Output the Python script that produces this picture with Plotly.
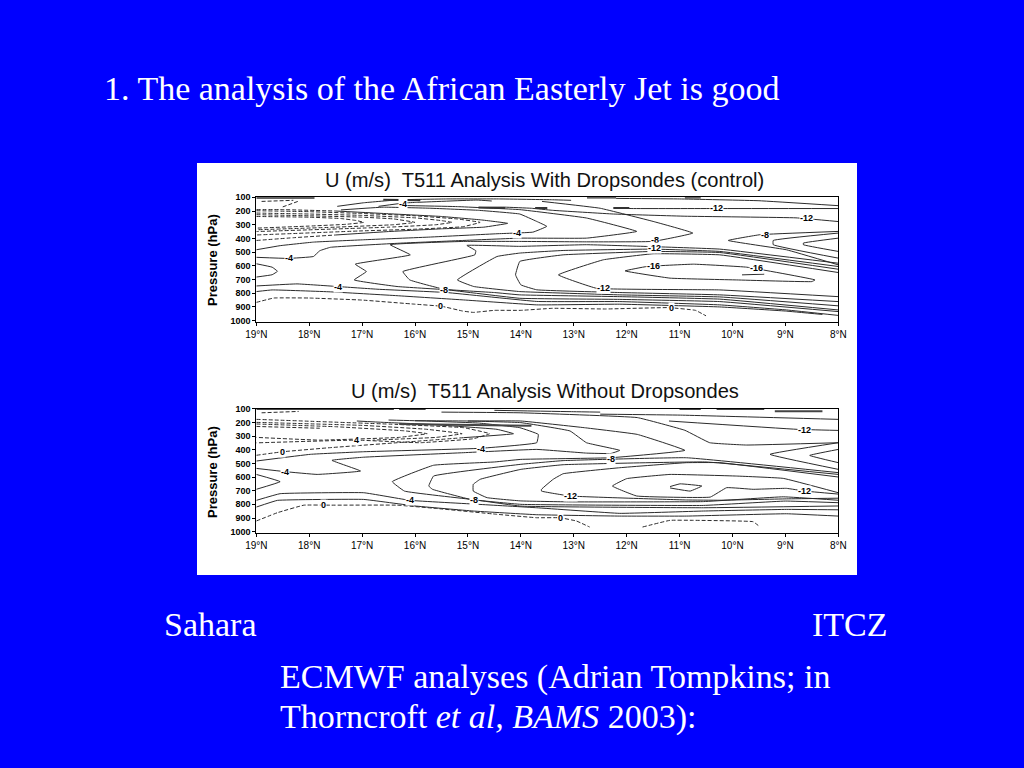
import plotly.graph_objects as go

# ---------- text ----------
slide_heading = "1. The analysis of the African Easterly Jet is good"
title_top = "U (m/s)  T511 Analysis With Dropsondes (control)"
title_bottom = "U (m/s)  T511 Analysis Without Dropsondes"
caption_1 = "ECMWF analyses (Adrian Tompkins; in"
caption_2 = "Thorncroft <i>et al, BAMS</i> 2003):"
lat_ticks = [19, 18, 17, 16, 15, 14, 13, 12, 11, 10, 9, 8]
lat_labels = ["19°N", "18°N", "17°N", "16°N", "15°N", "14°N", "13°N", "12°N", "11°N", "10°N", "9°N", "8°N"]
p_ticks = [100, 200, 300, 400, 500, 600, 700, 800, 900, 1000]

# ---------- top panel contours (lat, hPa) ----------
top_solid_1 = [(17.47,166),(16.97,140),(16.3,118),(15.4,112),(14.4,112),(13.4,118),(13.05,122)]
top_solid_2 = [(16.69,166),(16.2,141),(15.97,137),(14.83,120),(14.55,127)]
top_solid_3 = [(14.8,175),(14.3,172),(13.8,180),(13.4,195),(12.25,222),(10.9,238),(8.8,250),(8,277)]
top_solid_4 = [(12.25,178),(11.9,182),(10.3,182),(8,182)]
top_solid_5 = [(12.2,108),(11,112),(9.5,125),(8,161)]
top_m4_tip = [(19,483),(18.55,453),(17.92,427),(16.97,410),(15.71,390),(14.45,366),(13.77,354),(13.51,312),(13.7,276),(14.02,222),(14.8,195),(15.7,180),(16.6,172),(17.4,192)]
top_tip_355 = [(19,538),(18.4,546),(17.92,532),(17.8,490),(17.6,465),(16.3,435),(15.1,415),(14.02,398),(12.76,398),(11.81,349),(12.76,251),(14.02,190),(15.2,168),(16.2,160)]
top_m6 = [(13.6,130),(12.5,180),(11.5,276),(10.75,361),(11.5,422),(12.76,425),(14.02,422),(15.08,422),(16.47,446),(16.09,520),(17.13,588),(16.92,642),(17.15,703),(16.34,751),(15.4,775),(14.02,837),(12.13,845),(10.24,861),(8,934)]
top_m8 = [(8,581),(10.24,478),(11.6,459),(12.76,446),(14.02,458),(15.02,451),(14.85,490),(14.87,520),(16.23,642),(16.1,703),(15.45,771),(14.5,795),(14.02,812),(12.13,825),(10.24,843),(8,922)]
top_m10a = [(8,605),(10.24,495),(11.5,478),(13.2,488),(14.02,507),(14.45,532),(15.2,703),(14.89,751),(14.02,788),(12.13,812),(10.24,827),(8,892)]
top_m10b = [(8,625),(10.24,503),(11.5,495),(13.2,520),(14.02,568),(14.1,666),(14.0,739),(13.7,775),(12.13,795),(10.24,812),(8,861)]
top_m12 = [(8,649),(10.24,520),(11.5,512),(12.44,556),(13.29,666),(12.57,764),(10.24,776),(8,825)]
top_m16 = [(12.03,637),(11.62,605),(10.74,588),(9.73,610),(8.44,703),(8.5,715),(9.92,703),(11.18,690),(12.03,637)]
top_m16_bit = [(9.82,666),(9.4,661)]
top_m8_left = [(19,585),(18.7,610),(18.6,640),(18.7,665),(19,682)]
top_m4_low = [(19,747),(18.23,732),(17.47,751),(16.7,771),(15.4,795),(13.7,860),(12.13,861),(10.24,885),(8.98,922),(8,962)]
top_low_2 = [(19,788),(18.7,776),(17.6,790),(16.34,818),(15.08,849),(13.7,885),(12.13,880),(10.24,900),(9,930),(8.3,955)]
top_right_1 = [(8,349),(9.48,373),(10.08,415),(8.98,483),(8,593)]
top_right_2 = [(8,361),(9.23,415),(9.23,446),(8,544)]
top_right_3 = [(8,398),(8.66,434),(8.66,446),(8,495)]
top_solid_tip = [(17.5,200),(16.5,220),(15.5,240),(14.75,265),(14.25,290),(14.7,318),(15.5,330),(16.5,350),(17.5,375)]
top_bar_1 = [(19,103),(17.9,103)]
top_bar_2 = [(16.6,118),(15.9,122)]
top_bar_3 = [(14.8,175),(14.3,178)]
top_bar_4 = [(12.75,102),(12.2,102)]
top_bar_5 = [(10.9,102),(10.6,102)]
top_bar_6 = [(12.25,178),(11.95,178)]
top_bar_7 = [(13.73,178),(13.5,178)]

top_dash_1 = [(19,198),(18,205),(17,218),(16,235),(15.2,258),(14.77,283),(15.1,315),(16,333),(17,345),(19,375)]
top_dash_2 = [(19,215),(18,222),(17,232),(16,250),(15.5,270),(15.3,283),(15.6,300),(16.5,318),(19,350)]
top_dash_3 = [(19,227),(18,235),(17,245),(16.4,258),(16,283),(16.4,300),(17.5,318),(19,337)]
top_dash_4 = [(19,240),(18,245),(17.4,255),(17.1,270),(16.97,283),(17.3,297),(18,310),(19,325)]
top_dash_5 = [(19,415),(18.3,395),(17.5,375)]
top_dash_6 = [(19,190),(18.5,190),(17.5,200)]
top_dash_7 = [(18.9,130),(18.3,122)]
top_dash_8 = [(18.5,170),(18.2,128)]
top_zero = [(19,867),(18.67,835),(18,835),(17,850),(16,880),(15.5,895),(15.1,930),(14.9,940),(14.5,925),(14,925),(13.4,910),(12.4,915),(11.2,905),(10.7,925),(10.5,965)]

# ---------- bottom panel contours (lat, hPa) ----------
bot_zero_1 = [(19,922),(18.6,861),(18.1,806),(17.6,806),(16.34,806),(15.6,830),(14.45,873),(13.7,898),(13.26,898),(12.95,922),(12.7,966)]
bot_zero_2 = [(11.7,966),(11.18,917),(10.74,917),(9.61,927),(9.5,959)]
bot_left_tip = [(19,581),(18.55,634),(19,690)]
bot_line_1 = [(19,771),(18.55,722),(16.97,715),(16.09,771),(14.8,800),(13.7,825),(12.13,866),(10.55,849),(8.98,837),(8,840)]
bot_line_2 = [(19,820),(18.6,771),(16.97,764),(16.0,812),(14.9,849),(13.7,876),(12.13,886),(10.87,886),(8.98,869),(8,886)]
bot_m4_mid = [(19,537),(18.45,561),(17.85,581),(17.03,556),(17.57,478),(16.97,455),(15.08,422),(13.7,398),(12.76,425),(12.3,428),(12.13,405),(12.76,349),(13.07,263),(14,202),(15,190),(16,188)]
bot_m4_top = [(19,483),(17.98,434),(16.97,415),(14.77,390),(13.7,349),(13.67,288),(14.02,239),(14.8,205),(15.8,190),(16.5,183)]
bot_zero_solid = [(15.08,312),(14.14,283),(14.45,251),(15.71,215),(16.6,200),(17.1,190)]
bot_tip_a = [(8,600),(10.24,495),(10.87,495),(12.13,532),(13.2,576),(13.39,617),(13.61,690),(13.61,703),(13.07,739),(10.87,768),(10.24,770),(8.98,760),(8,755)]
bot_tip_b = [(8,715),(9.04,610),(9.92,593),(11.18,581),(12,612),(12.27,666),(11.81,739),(10.42,747),(10.11,678),(9.61,690),(8.98,683),(8.63,703),(8,725)]
bot_small = [(11.18,670),(10.99,650),(10.58,666),(10.8,703),(11.18,680)]
bot_tip_c = [(15,190),(14,190),(12.8,239),(11.8,288),(10.9,405),(12.3,459),(14,471),(14.5,490),(15.65,514),(16.43,634),(16.2,703),(14.89,766),(14,813),(10.55,825),(8,812)]
bot_tip_d = [(8,568),(10.87,459),(13.2,480),(14,507),(15.65,593),(15.74,666),(15.67,690),(14.95,764),(14,800),(10.55,808),(9,776),(8,788)]
bot_tip_e = [(8,581),(10.5,490),(13.2,510),(14,544),(14.77,617),(14.9,654),(14.9,703),(14.64,751),(14,775),(13.07,782),(10.55,780),(9.04,745),(8,770)]
bot_up_1 = [(14.5,112),(13,122),(12.5,125)]
bot_up_2 = [(12.5,140),(10.98,147),(8,178)]
bot_up_3 = [(15.5,125),(14,130),(11.8,165),(10.9,258),(10.43,349),(9.74,366),(8,349)]
bot_up_4 = [(11.2,190),(8.78,251),(8,259)]
bot_right_1 = [(8,349),(9.29,434),(8,544)]
bot_right_2 = [(8,398),(8.54,442),(8,495)]
bot_bar_1 = [(19,103),(16.4,103)]
bot_bar_2 = [(16.3,103),(15.8,103)]
bot_bar_3 = [(11.0,102),(10.6,103)]
bot_bar_4 = [(10.3,103),(9.4,103)]
bot_bar_5 = [(9.2,118),(8.3,118)]
bot_bar_6 = [(16.3,212),(13.8,225)]
bot_dash_1 = [(19,178),(16.34,215),(15.08,239),(14.59,283),(14.9,320),(15.9,349),(17.1,330),(19,350)]
bot_dash_2 = [(19,200),(17,222),(15.8,250),(15.11,283),(15.6,310),(16.8,330)]
bot_dash_3 = [(19,212),(17.5,232),(16.2,262),(15.77,283),(16.3,310),(17.8,330),(19,310)]
bot_dash_4 = [(18.9,130),(18.2,120)]
bot_dash_5 = [(19,441),(18.5,415),(17.6,385),(16.34,349),(15.08,312)]
bot_dash_6 = [(19,230),(17.8,243)]

TOP_SOLID = [top_solid_1, top_solid_2, top_solid_3, top_solid_4, top_solid_5, top_m4_tip, top_tip_355, top_m6, top_m8, top_m10a, top_m10b, top_m12, top_m16, top_m16_bit, top_m8_left, top_m4_low, top_low_2, top_right_1, top_right_2, top_right_3, top_solid_tip]
TOP_DASH = [top_dash_1, top_dash_2, top_dash_3, top_dash_4, top_dash_5, top_dash_6, top_dash_7, top_dash_8, top_zero]
TOP_BARS = [top_bar_1, top_bar_2, top_bar_3, top_bar_4, top_bar_5, top_bar_6, top_bar_7]
BOT_SOLID = [bot_left_tip, bot_line_1, bot_line_2, bot_m4_mid, bot_m4_top, bot_zero_solid, bot_tip_a, bot_tip_b, bot_small, bot_tip_c, bot_tip_d, bot_tip_e, bot_up_1, bot_up_2, bot_up_3, bot_up_4, bot_right_1, bot_right_2]
BOT_DASH = [bot_dash_1, bot_dash_2, bot_dash_3, bot_dash_4, bot_dash_5, bot_dash_6, bot_zero_1, bot_zero_2]
BOT_BARS = [bot_bar_1, bot_bar_2, bot_bar_3, bot_bar_4, bot_bar_5, bot_bar_6]

top_labels = [("-4",18.39,546),("-4",17.46,751),("-4",14.07,361),("-4",16.23,146),("-8",15.46,776),("0",15.52,893),("-12",10.3,178),("-12",8.6,251),("-8",9.39,373),("-8",11.47,410),("-12",11.47,471),("-16",11.5,605),("-16",9.54,617),("-12",12.44,764),("0",11.15,910)]
bot_labels = [("4",17.1,330),("0",18.5,415),("-4",18.45,561),("-4",14.75,398),("-4",16.09,771),("-8",14.89,766),("0",17.73,806),("-8",12.3,466),("-12",13.07,739),("-12",8.63,259),("-12",8.63,703),("0",13.26,898)]

W, H = 1024, 768
LINE = "#2b2b2b"
SANS = "Liberation Sans, Arial, sans-serif"
SERIF = "Liberation Serif, Times New Roman, serif"

fig = go.Figure()

def add_lines(groups, xa, ya, width, dash, color=LINE):
    for g in groups:
        fig.add_trace(go.Scatter(x=[v[0] for v in g], y=[v[1] for v in g], mode="lines", xaxis=xa, yaxis=ya,
                                 line=dict(color=color, width=width, dash=dash, shape="spline", smoothing=0.25),
                                 hoverinfo="skip", showlegend=False))

add_lines(TOP_SOLID, "x", "y", 1, "solid")
add_lines(TOP_DASH, "x", "y", 1, "4px,2px")
add_lines(TOP_BARS, "x", "y", 2, "solid", "#333333")
add_lines(BOT_SOLID, "x2", "y2", 1, "solid")
add_lines(BOT_DASH, "x2", "y2", 1, "4px,2px")
add_lines(BOT_BARS, "x2", "y2", 2, "solid", "#444444")

anns = []
def paper(text, px, py, size, family=SERIF, color="white", anchor="left", angle=0):
    anns.append(dict(text=text, x=px / W, y=1 - py / H, xref="paper", yref="paper", xanchor=anchor, yanchor="middle",
                     showarrow=False, textangle=angle, font=dict(family=family, size=size, color=color)))

paper(slide_heading, 102, 89, 34)
paper("Sahara", 162, 624, 34)
paper("ITCZ", 810, 624, 34)
paper(caption_1, 278, 677, 34)
paper(caption_2, 278, 717, 34)
paper(title_top, 323, 180, 20.1, SANS, "#111111")
paper(title_bottom, 349, 391, 20.1, SANS, "#111111")
paper("<b>Pressure (hPa)</b>", 212, 260, 13, SANS, "black", "center", -90)
paper("<b>Pressure (hPa)</b>", 212, 472, 13, SANS, "black", "center", -90)

for t, la, pr in top_labels:
    anns.append(dict(text="<b>" + t + "</b>", x=la, y=pr, xref="x", yref="y", showarrow=False, bgcolor="white", borderpad=0,
                     font=dict(family=SANS, size=9, color="black")))
for t, la, pr in bot_labels:
    anns.append(dict(text="<b>" + t + "</b>", x=la, y=pr, xref="x2", yref="y2", showarrow=False, bgcolor="white", borderpad=0,
                     font=dict(family=SANS, size=9, color="black")))

x_dom = [256.3 / W, 838.3 / W]
def xaxis(anchor):
    return dict(domain=x_dom, range=[19, 8], anchor=anchor, tickvals=lat_ticks, ticktext=lat_labels, ticks="outside",
                ticklen=3, tickcolor="black", showline=True, linecolor="black", linewidth=1, mirror=True, automargin=False,
                showgrid=False, zeroline=False, tickfont=dict(family=SANS, size=10, color="black"))
def yaxis(anchor, top, bottom, rng):
    return dict(domain=[1 - bottom / H, 1 - top / H], range=rng, anchor=anchor, tickvals=p_ticks, ticks="outside",
                ticklen=3, tickcolor="black", showline=True, linecolor="black", linewidth=1, mirror=True, automargin=False,
                showgrid=False, zeroline=False, tickfont=dict(family=SANS, size=9, color="black", weight="bold"))

fig.update_layout(
    width=W, height=H, autosize=False, margin=dict(l=0, r=0, t=0, b=0, pad=0),
    paper_bgcolor="#0000FF", plot_bgcolor="white", showlegend=False,
    xaxis=xaxis("y"), yaxis=yaxis("x", 197.3, 322, [1010, 100]),
    xaxis2=xaxis("y2"), yaxis2=yaxis("x2", 408.7, 533.3, [1012, 100]),
    annotations=anns,
    shapes=[dict(type="rect", xref="paper", yref="paper", x0=197 / W, x1=857 / W, y0=1 - 575 / H, y1=1 - 163 / H,
                 fillcolor="white", line=dict(width=0), layer="below")],
)
fig.write_html("out.html", config={"displayModeBar": False},
               post_script="document.body.style.margin='0';document.body.style.overflow='hidden';")
